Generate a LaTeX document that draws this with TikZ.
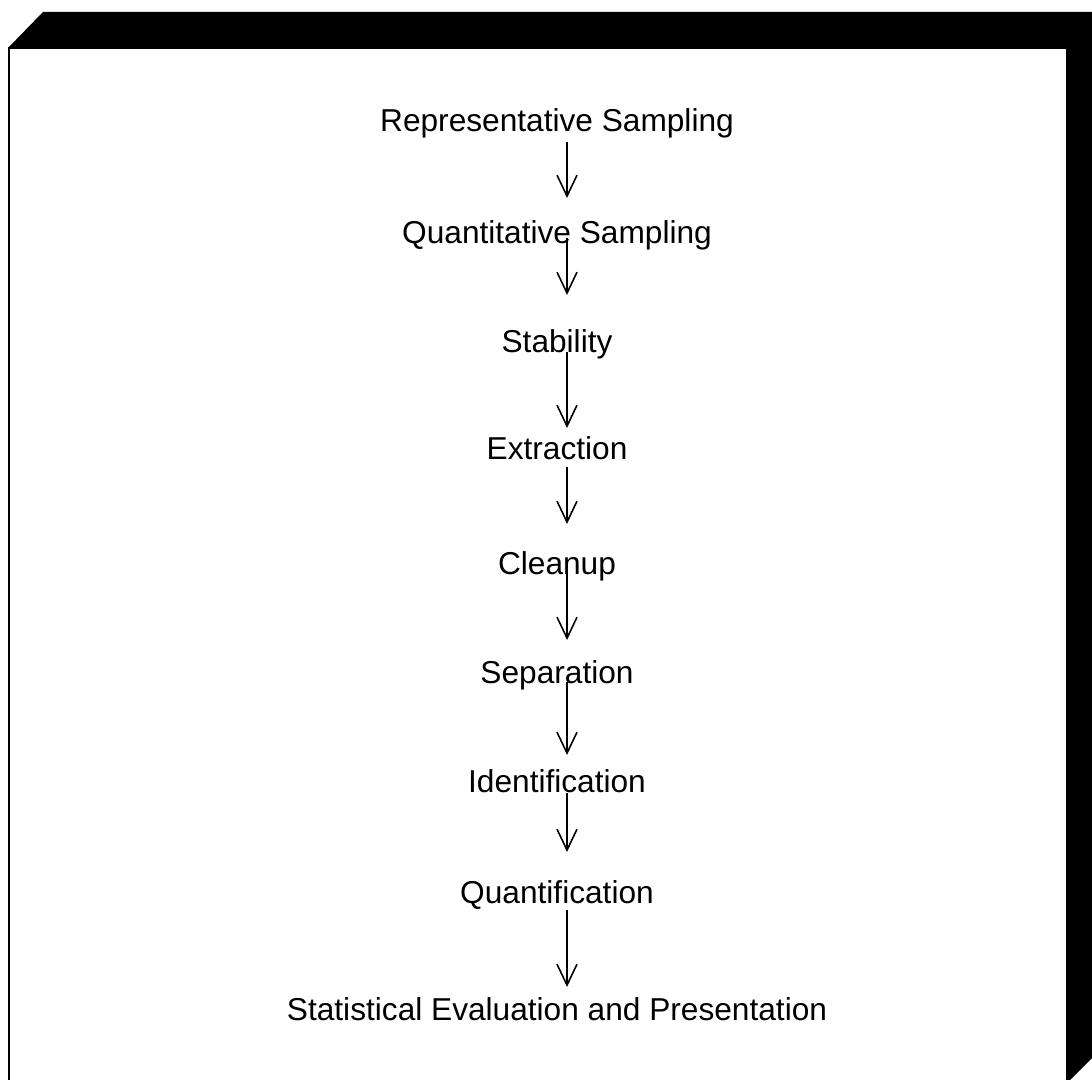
\documentclass[tikz,border=0pt]{standalone}
\usepackage{fontspec}
\setmainfont{Liberation Sans}
\usetikzlibrary{arrows.meta}

\begin{document}
\begin{tikzpicture}[x=0.01cm, y=-0.01cm, >={Straight Barb[length=2.1mm,width=2mm]},
    every node/.style={font=\fontsize{9}{11}\selectfont, anchor=base, inner sep=0pt},
    flow/.style={->, line width=0.45pt}]
\useasboundingbox (0,0) rectangle (1092,1080);
% shadow and frame
\fill[black] (8,48) -- (43,12) -- (1102,12) -- (1102,1048) -- (1067,1083) -- (1067,48) -- cycle;
\draw[line width=0.7pt] (9,48) rectangle (1067,1083);
% steps
\node (rep) at (557,132) {Representative Sampling};
\node (quant) at (557,244) {Quantitative Sampling};
\node (stab) at (557,353) {Stability};
\node (extr) at (557,460) {Extraction};
\node (clean) at (557,574) {Cleanup};
\node (sep) at (557,683) {Separation};
\node (ident) at (557,792) {Identification};
\node (quantif) at (557,903) {Quantification};
\node (stat) at (557,1020) {Statistical Evaluation and Presentation};
% arrows
\draw[flow] ([shift={(10,10)}]rep.base) -- ([shift={(10,-46)}]quant.base);
\draw[flow] ([shift={(10,-6)}]quant.base) -- ([shift={(10,-58)}]stab.base);
\draw[flow] ([shift={(10,-1)}]stab.base) -- ([shift={(10,-32)}]extr.base);
\draw[flow] ([shift={(10,7)}]extr.base) -- ([shift={(10,-50)}]clean.base);
\draw[flow] ([shift={(10,-14)}]clean.base) -- ([shift={(10,-43)}]sep.base);
\draw[flow] ([shift={(10,-1)}]sep.base) -- ([shift={(10,-37)}]ident.base);
\draw[flow] ([shift={(10,1)}]ident.base) -- ([shift={(10,-51)}]quantif.base);
\draw[flow] ([shift={(10,7)}]quantif.base) -- ([shift={(10,-33)}]stat.base);
\end{tikzpicture}
\end{document}
